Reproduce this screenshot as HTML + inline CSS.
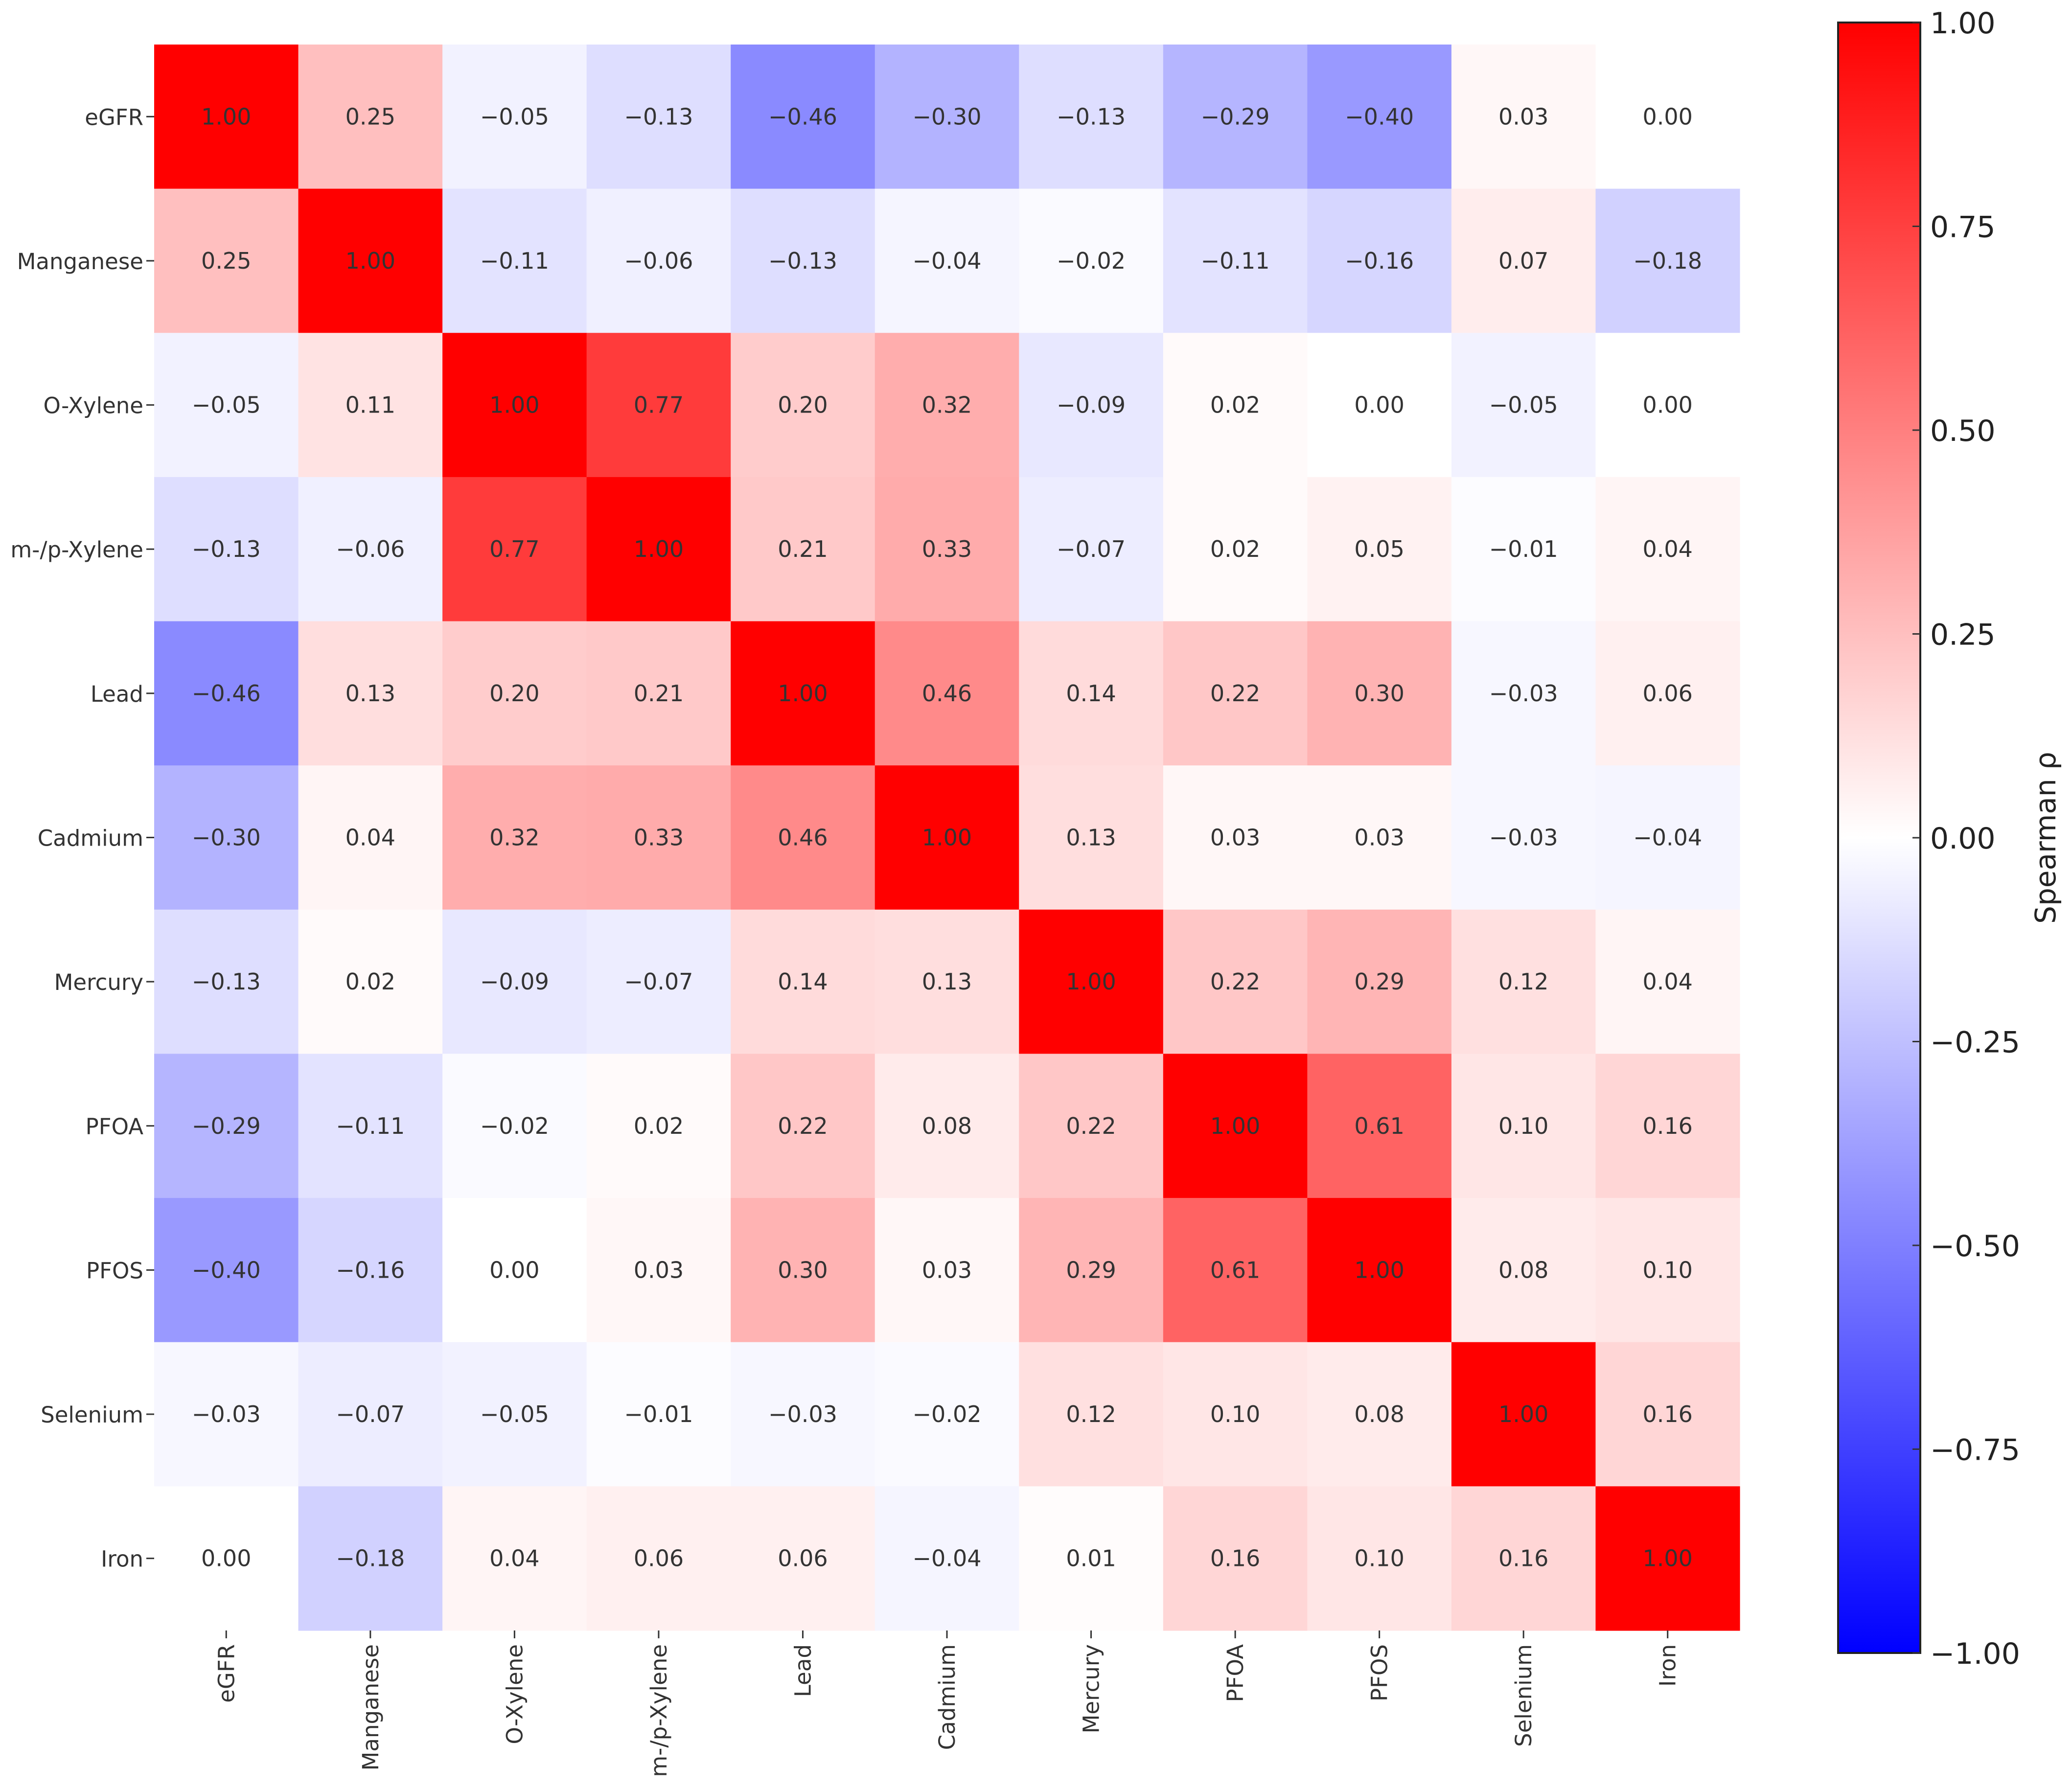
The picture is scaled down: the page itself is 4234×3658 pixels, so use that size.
<!DOCTYPE html>
<html><head><meta charset="utf-8">
<style>
html,body{margin:0;padding:0;background:#fff;}
svg{display:block;}
text{font-family:"DejaVu Sans","Liberation Sans",sans-serif;}
</style></head>
<body>
<svg id="chart" width="4234" height="3658" viewBox="0 0 4234 3658" xmlns="http://www.w3.org/2000/svg">
<defs>
<linearGradient id="cbgrad" x1="0" y1="0" x2="0" y2="1">
<stop offset="0" stop-color="#ff0000"/>
<stop offset="0.5" stop-color="#ffffff"/>
<stop offset="1" stop-color="#0000ff"/>
</linearGradient>
</defs>
<g id="cells"></g>
<g id="ylabels"></g>
<g id="xlabels"></g>
<g id="colorbar"></g>
</svg>
<script>
const categories = ["eGFR","Manganese","O-Xylene","m-/p-Xylene","Lead","Cadmium","Mercury","PFOA","PFOS","Selenium","Iron"];
const row0 = [1.00,0.25,-0.05,-0.13,-0.46,-0.30,-0.13,-0.29,-0.40,0.03,0.00];
const row1 = [0.25,1.00,-0.11,-0.06,-0.13,-0.04,-0.02,-0.11,-0.16,0.07,-0.18];
const row2 = [-0.05,0.11,1.00,0.77,0.20,0.32,-0.09,0.02,0.00,-0.05,0.00];
const row3 = [-0.13,-0.06,0.77,1.00,0.21,0.33,-0.07,0.02,0.05,-0.01,0.04];
const row4 = [-0.46,0.13,0.20,0.21,1.00,0.46,0.14,0.22,0.30,-0.03,0.06];
const row5 = [-0.30,0.04,0.32,0.33,0.46,1.00,0.13,0.03,0.03,-0.03,-0.04];
const row6 = [-0.13,0.02,-0.09,-0.07,0.14,0.13,1.00,0.22,0.29,0.12,0.04];
const row7 = [-0.29,-0.11,-0.02,0.02,0.22,0.08,0.22,1.00,0.61,0.10,0.16];
const row8 = [-0.40,-0.16,0.00,0.03,0.30,0.03,0.29,0.61,1.00,0.08,0.10];
const row9 = [-0.03,-0.07,-0.05,-0.01,-0.03,-0.02,0.12,0.10,0.08,1.00,0.16];
const row10 = [0.00,-0.18,0.04,0.06,0.06,-0.04,0.01,0.16,0.10,0.16,1.00];
const rows = [row0,row1,row2,row3,row4,row5,row6,row7,row8,row9,row10];
const cbTicks = [1.00,0.75,0.50,0.25,0.00,-0.25,-0.50,-0.75,-1.00];

const NS="http://www.w3.org/2000/svg";
const X0=315,Y0=91,X1=3555,Y1=3332;
const n=categories.length;
const cw=(X1-X0)/n, ch=(Y1-Y0)/n;
const xPos=i=>X0+i*cw;
const yPos=i=>Y0+i*ch;
const CB={x:3756,y:46,w:168,h:3332};
const cbY=v=>CB.y+(1-v)/2*CB.h;
function color(v){
  v=Math.max(-1,Math.min(1,v));
  let r,g,b;
  if(v>=0){r=255;g=b=Math.round(255*(1-v));}
  else{b=255;r=g=Math.round(255*(1+v));}
  return `rgb(${r},${g},${b})`;
}
function fmt(v){const s=Math.abs(v).toFixed(2);return (v<0?"\u2212":"")+s;}
function mk(tag,attrs,parent){const e=document.createElementNS(NS,tag);for(const k in attrs)e.setAttribute(k,attrs[k]);parent.appendChild(e);return e;}

const cells=document.getElementById('cells');
rows.forEach((row,i)=>{
  row.forEach((v,j)=>{
    const r=mk('rect',{x:xPos(j),y:yPos(i),width:cw+0.6,height:ch+0.6,fill:color(v)},cells);
    
    
    const t=mk('text',{x:xPos(j)+cw/2,y:yPos(i)+ch/2+16,'text-anchor':'middle','font-size':46,fill:'#333'},cells);
    
    
    t.textContent=fmt(v);
  });
});
const yl=document.getElementById('ylabels');
categories.forEach((c,i)=>{
  const cy=yPos(i)+ch/2;
  const tk=mk('line',{x1:X0-16,x2:X0,y1:cy,y2:cy,stroke:'#333','stroke-width':3},yl);
  
  
  const t=mk('text',{x:X0-22,y:cy+17,'text-anchor':'end','font-size':45,fill:'#333'},yl);
  
  
  t.textContent=c;
});
const xl=document.getElementById('xlabels');
categories.forEach((c,i)=>{
  const cx=xPos(i)+cw/2;
  const tk=mk('line',{x1:cx,x2:cx,y1:Y1,y2:Y1+16,stroke:'#333','stroke-width':3},xl);
  
  
  const t=mk('text',{x:0,y:0,'text-anchor':'end','font-size':45,fill:'#333',transform:`translate(${cx+16},${Y1+28}) rotate(-90)`},xl);
  
  
  t.textContent=c;
});
const cb=document.getElementById('colorbar');
const bar=mk('rect',{x:CB.x,y:CB.y,width:CB.w,height:CB.h,fill:'url(#cbgrad)',stroke:'#222','stroke-width':4},cb);


cbTicks.forEach(v=>{
  const y=cbY(v);
  const tk=mk('line',{x1:CB.x+CB.w-16,x2:CB.x+CB.w,y1:y,y2:y,stroke:'#333','stroke-width':3},cb);
  
  
  const t=mk('text',{x:CB.x+CB.w+20,y:y+22,'font-size':60,fill:'#222'},cb);
  
  
  t.textContent=fmt(v);
});
const title=mk('text',{x:0,y:0,'text-anchor':'middle','font-size':58,fill:'#222',transform:`translate(4200,${CB.y+CB.h/2}) rotate(-90)`},cb);


title.textContent='Spearman \u03c1';
</script>
</body></html>
